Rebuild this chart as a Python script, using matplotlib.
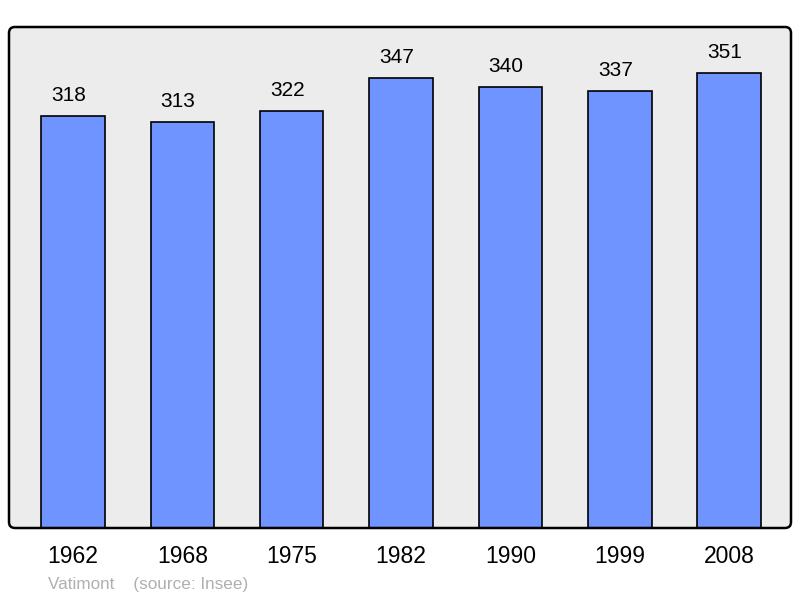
import numpy as np
import matplotlib.pyplot as plt
from matplotlib.patches import FancyBboxPatch

plt.rcParams['font.family'] = ['Liberation Sans', 'DejaVu Sans']

# === Données ===
years = ["1962", "1968", "1975", "1982", "1990", "1999", "2008"]
population = [318, 313, 322, 347, 340, 337, 351]

fig = plt.figure(figsize=(8, 5.98), dpi=100)
W, H = 800, 598
left, bottom, width, height = 9, 70, 782, 501
ax = fig.add_axes([left / W, bottom / H, width / W, height / H])
ax.patch.set_visible(False)
ax.set_zorder(1)

x = np.arange(len(years))
ax.bar(x, population, width=0.58, color="#7094ff", edgecolor="black",
       linewidth=1.2, zorder=2)

for xi, v in zip(x, population):
    ax.text(xi - 0.04, v + 8.5, str(v), ha="center", va="bottom",
            fontsize=15, zorder=3)

ax.set_xlim(-0.585, 6.565)
ax.set_ylim(0, 386.5)
ax.set_xticks(x)
ax.set_xticklabels(years, fontsize=16.5)
ax.tick_params(axis="x", length=0, pad=12)
ax.set_yticks([])
for s in ax.spines.values():
    s.set_visible(False)

# cadre arrondi
bg = FancyBboxPatch((left, bottom), width, height,
                    boxstyle="round,pad=0,rounding_size=6",
                    facecolor="#ececec", edgecolor="none", transform=None,
                    zorder=-1)
fig.patches.append(bg)
frame = FancyBboxPatch((left, bottom), width, height,
                       boxstyle="round,pad=0,rounding_size=6",
                       facecolor="none", edgecolor="black", linewidth=1.8,
                       transform=None, zorder=5)
fig.add_artist(frame)

fig.text(48 / W, 1 - 585 / H, "Vatimont    (source: Insee)", color="#b0b0b0",
         fontsize=12.3, ha="left", va="center")

fig.savefig("out.png", dpi=100)
